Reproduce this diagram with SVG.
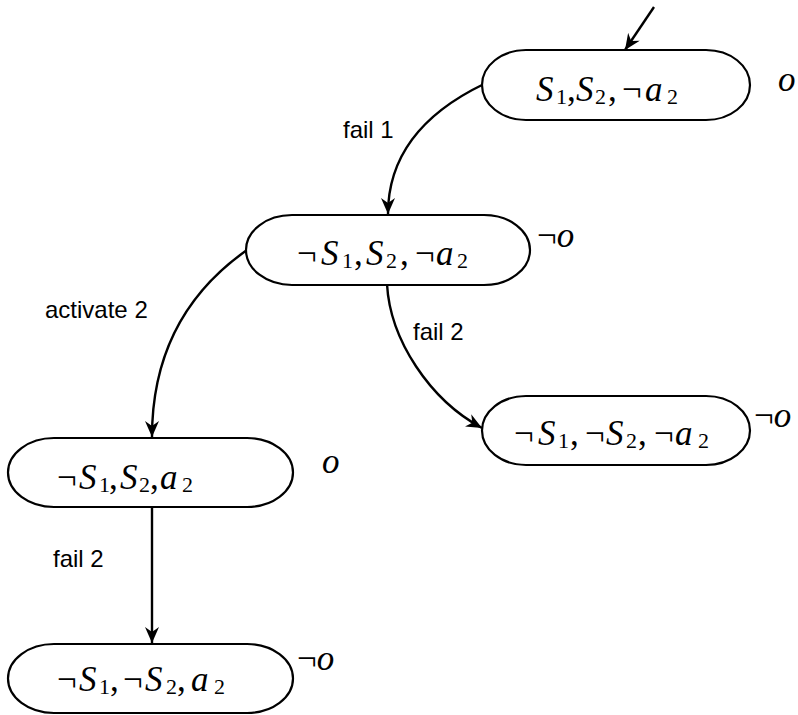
<svg xmlns="http://www.w3.org/2000/svg" width="798" height="715" viewBox="0 0 798 715">
<style>
.node{fill:#fff;stroke:#000;stroke-width:2.2}
.edge{fill:none;stroke:#000;stroke-width:2.4}
.t{font-family:"Liberation Serif","Times New Roman",serif;font-size:35px;fill:#000}
.m{font-style:italic}
.s{font-size:22px;font-style:normal}
.lbl{font-family:"Liberation Sans",Arial,sans-serif;font-size:24px;fill:#000}
</style>
<defs>
<marker id="ah" markerUnits="userSpaceOnUse" markerWidth="18" markerHeight="14" refX="16" refY="7" orient="auto">
<path d="M0,0 L16,7 L0,14 L5,7 z" fill="#000"/>
</marker>
</defs>
<g id="edges">
<line class="edge" x1="654" y1="7" x2="625" y2="50" marker-end="url(#ah)"/>
<path class="edge" d="M484,84 C430,110 388,150 388,214" marker-end="url(#ah)"/>
<path class="edge" d="M247,250 C190,290 152,350 152,437" marker-end="url(#ah)"/>
<path class="edge" d="M387,284 C390,340 430,400 482,428" marker-end="url(#ah)"/>
<line class="edge" x1="152" y1="507" x2="152" y2="643" marker-end="url(#ah)"/>
<text class="lbl" x="343" y="138">fail 1</text>
<text class="lbl" x="45" y="318">activate 2</text>
<text class="lbl" x="413" y="340">fail 2</text>
<text class="lbl" x="53" y="567">fail 2</text>
</g>
<g id="n1">
<rect class="node" x="482" y="50" width="268" height="70" rx="44" ry="35"/>
<text class="t"><tspan class="m" x="536" y="101">S</tspan><tspan class="s" x="556" y="104">1</tspan><tspan x="567" y="101">,</tspan><tspan class="m" x="576" y="101">S</tspan><tspan class="s" x="595" y="104">2</tspan><tspan x="608" y="101">,</tspan><tspan x="622" y="101">¬</tspan><tspan class="m" x="645" y="101">a</tspan><tspan class="s" x="667" y="104">2</tspan></text>
<text class="t m" x="778" y="91">o</text>
</g>
<g id="n2">
<rect class="node" x="246" y="215" width="284" height="70" rx="46" ry="35"/>
<text class="t"><tspan x="297" y="265">¬</tspan><tspan class="m" x="321" y="265">S</tspan><tspan class="s" x="342" y="268">1</tspan><tspan x="354" y="265">,</tspan><tspan class="m" x="366" y="265">S</tspan><tspan class="s" x="386" y="268">2</tspan><tspan x="400" y="265">,</tspan><tspan x="415" y="265">¬</tspan><tspan class="m" x="436" y="265">a</tspan><tspan class="s" x="457" y="268">2</tspan></text>
<text class="t" x="537" y="247">¬<tspan class="m">o</tspan></text>
</g>
<g id="n3">
<rect class="node" x="482" y="396" width="268" height="69" rx="44" ry="34.5"/>
<text class="t"><tspan x="514" y="445">¬</tspan><tspan class="m" x="538" y="445">S</tspan><tspan class="s" x="558" y="448">1</tspan><tspan x="570" y="445">,</tspan><tspan x="585" y="445">¬</tspan><tspan class="m" x="606" y="445">S</tspan><tspan class="s" x="626" y="448">2</tspan><tspan x="638" y="445">,</tspan><tspan x="654" y="445">¬</tspan><tspan class="m" x="675" y="445">a</tspan><tspan class="s" x="698" y="448">2</tspan></text>
<text class="t" x="754" y="427">¬<tspan class="m">o</tspan></text>
</g>
<g id="n4">
<rect class="node" x="8" y="438" width="285" height="69" rx="46" ry="34.5"/>
<text class="t"><tspan x="57" y="489">¬</tspan><tspan class="m" x="79" y="489">S</tspan><tspan class="s" x="99" y="492">1</tspan><tspan x="109" y="489">,</tspan><tspan class="m" x="120" y="489">S</tspan><tspan class="s" x="139" y="492">2</tspan><tspan x="150" y="489">,</tspan><tspan class="m" x="160" y="489">a</tspan><tspan class="s" x="182" y="492">2</tspan></text>
<text class="t m" x="322" y="473">o</text>
</g>
<g id="n5">
<rect class="node" x="8" y="644" width="285" height="69" rx="46" ry="34.5"/>
<text class="t"><tspan x="57" y="691">¬</tspan><tspan class="m" x="79" y="691">S</tspan><tspan class="s" x="99" y="694">1</tspan><tspan x="110" y="691">,</tspan><tspan x="123" y="691">¬</tspan><tspan class="m" x="145" y="691">S</tspan><tspan class="s" x="166" y="694">2</tspan><tspan x="177" y="691">,</tspan><tspan class="m" x="191" y="691">a</tspan><tspan class="s" x="214" y="694">2</tspan></text>
<text class="t" x="297" y="670">¬<tspan class="m">o</tspan></text>
</g>
</svg>
